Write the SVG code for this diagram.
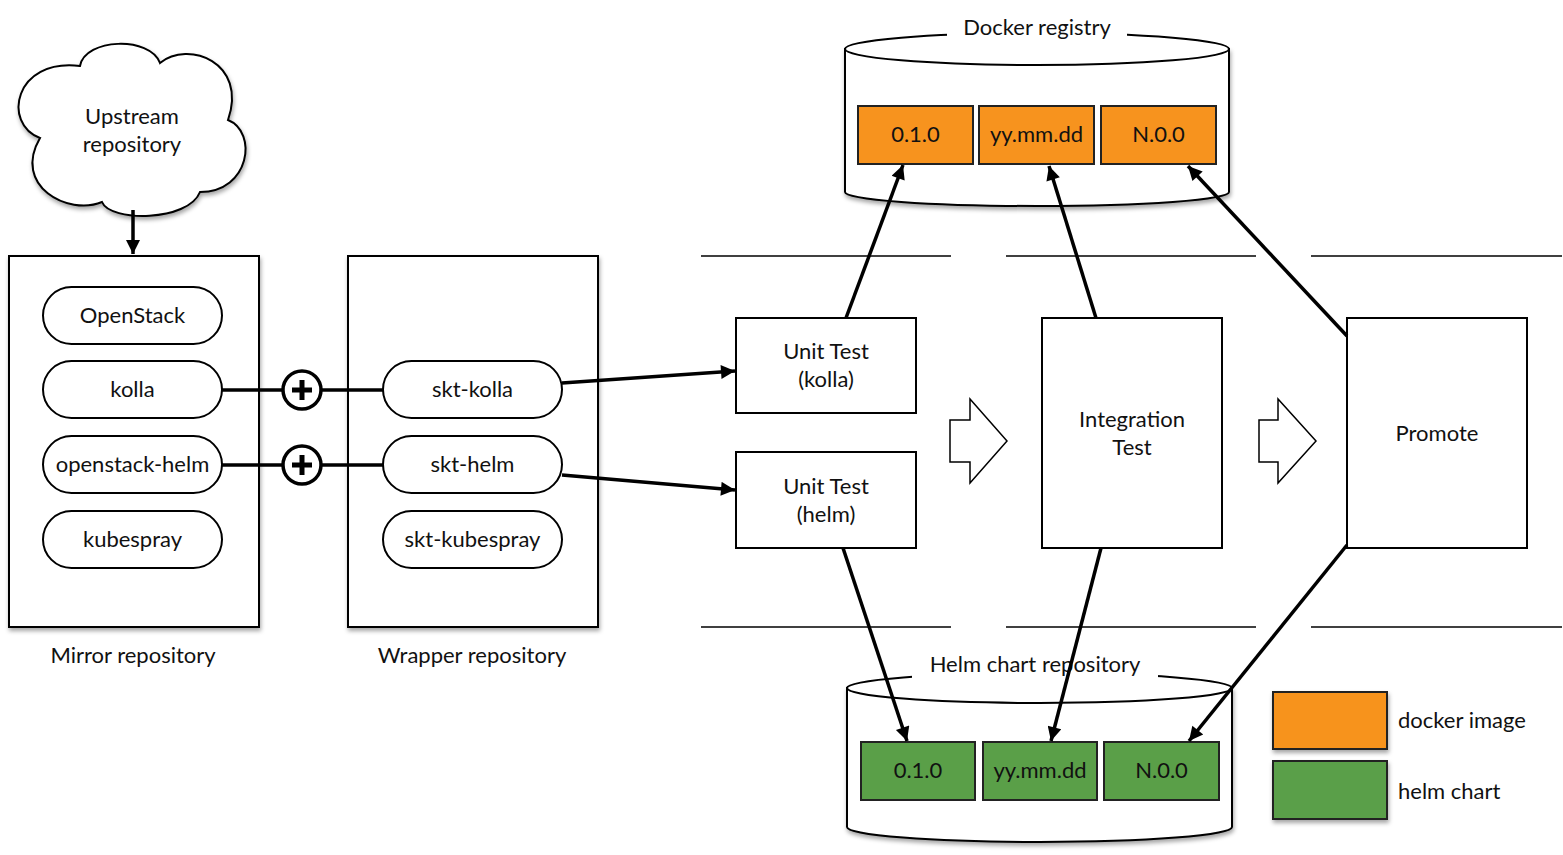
<svg xmlns="http://www.w3.org/2000/svg" width="1563" height="855" viewBox="0 0 1563 855">
<style>
text{font-family:"Lato","Open Sans","DejaVu Sans",sans-serif;font-size:22px;fill:#111;text-anchor:middle}
.box{fill:#fff;stroke:#000;stroke-width:2}
.pill{fill:#fff;stroke:#000;stroke-width:2}
.rule{stroke:#000;stroke-width:1.5;fill:none}
.conn{stroke:#000;stroke-width:3.5;fill:none}
.orange{fill:#F7931E;stroke:#222;stroke-width:2}
.green{fill:#5A9F48;stroke:#222;stroke-width:2}
.big{fill:#fff;stroke:#000;stroke-width:1.5}
</style>
<defs>
<filter id="sh" x="-10%" y="-10%" width="130%" height="130%">
<feDropShadow dx="1" dy="3" stdDeviation="2" flood-color="#000" flood-opacity="0.35"/>
</filter>
<marker id="ah" viewBox="0 0 10 10" refX="10" refY="5" markerWidth="5" markerHeight="4" orient="auto" markerUnits="strokeWidth">
<path d="M0,0 L10,5 L0,10 Z" fill="#000"/>
</marker>
</defs>

<g id="rules">
<line class="rule" x1="701" y1="256" x2="951" y2="256"/>
<line class="rule" x1="1006" y1="256" x2="1256" y2="256"/>
<line class="rule" x1="1311" y1="256" x2="1562" y2="256"/>
<line class="rule" x1="701" y1="627" x2="951" y2="627"/>
<line class="rule" x1="1006" y1="627" x2="1256" y2="627"/>
<line class="rule" x1="1311" y1="627" x2="1562" y2="627"/>
</g>

<g id="upstream">
<path filter="url(#sh)" d="M 80,66 C 85,38 150,36 160,63 C 188,40 248,62 228,120 C 258,132 250,192 200,192 C 188,222 110,222 102,202 C 68,216 12,186 40,138 C 2,124 14,58 80,66 Z" fill="#fff" stroke="#000" stroke-width="2"/>
<text x="132" y="124">Upstream</text>
<text x="132" y="152">repository</text>
</g>

<g id="mirror">
<rect class="box" x="9" y="256" width="250" height="371" filter="url(#sh)"/>
<text x="133" y="663">Mirror repository</text>
</g>
<g id="wrapper">
<rect class="box" x="348" y="256" width="250" height="371" filter="url(#sh)"/>
<text x="472" y="663">Wrapper repository</text>
</g>

<g id="openstack"><rect class="pill" x="43" y="287" width="179" height="57" rx="28.5"/><text x="132.5" y="323">OpenStack</text></g>
<g id="kolla"><rect class="pill" x="43" y="361" width="179" height="57" rx="28.5"/><text x="132.5" y="397">kolla</text></g>
<g id="openstack-helm"><rect class="pill" x="43" y="436" width="179" height="57" rx="28.5"/><text x="132.5" y="472">openstack-helm</text></g>
<g id="kubespray"><rect class="pill" x="43" y="511" width="179" height="57" rx="28.5"/><text x="132.5" y="547">kubespray</text></g>

<g id="skt-kolla"><rect class="pill" x="383" y="361" width="179" height="57" rx="28.5"/><text x="472.5" y="397">skt-kolla</text></g>
<g id="skt-helm"><rect class="pill" x="383" y="436" width="179" height="57" rx="28.5"/><text x="472.5" y="472">skt-helm</text></g>
<g id="skt-kubespray"><rect class="pill" x="383" y="511" width="179" height="57" rx="28.5"/><text x="472.5" y="547">skt-kubespray</text></g>

<g id="plus1">
<circle cx="302" cy="390" r="19" fill="#fff" stroke="#000" stroke-width="3.5"/>
<path d="M302,380 V400 M292,390 H312" stroke="#000" stroke-width="5"/>
</g>
<g id="plus2">
<circle cx="302" cy="465" r="19" fill="#fff" stroke="#000" stroke-width="3.5"/>
<path d="M302,455 V475 M292,465 H312" stroke="#000" stroke-width="5"/>
</g>

<g id="unit-kolla"><rect class="box" x="736" y="318" width="180" height="95"/><text x="826" y="359">Unit Test</text><text x="826" y="387">(kolla)</text></g>
<g id="unit-helm"><rect class="box" x="736" y="452" width="180" height="96"/><text x="826" y="494">Unit Test</text><text x="826" y="522">(helm)</text></g>
<g id="integration"><rect class="box" x="1042" y="318" width="180" height="230"/><text x="1132" y="427">Integration</text><text x="1132" y="455">Test</text></g>
<g id="promote"><rect class="box" x="1347" y="318" width="180" height="230"/><text x="1437" y="441">Promote</text></g>

<g id="step1"><path class="big" d="M950,420 H970 V399 L1007,441 L970,483 V462 H950 Z"/></g>
<g id="step2"><path class="big" d="M1259,420 H1278 V399 L1316,441 L1278,483 V462 H1259 Z"/></g>

<g id="docker-registry">
<path filter="url(#sh)" d="M845,49 V192 A192,14 0 0 0 1229,192 V49 Z" fill="#fff" stroke="#000" stroke-width="2"/>
<ellipse cx="1037" cy="49" rx="192" ry="16" fill="#fff" stroke="#000" stroke-width="2"/>
<rect x="947" y="20" width="180" height="24" fill="#fff"/>
<text x="1037" y="35">Docker registry</text>
<g id="d010"><rect class="orange" x="858" y="106" width="115" height="58"/><text x="915.5" y="142">0.1.0</text></g>
<g id="dyy"><rect class="orange" x="979" y="106" width="115" height="58"/><text x="1036.5" y="142">yy.mm.dd</text></g>
<g id="dN"><rect class="orange" x="1101" y="106" width="115" height="58"/><text x="1158.5" y="142">N.0.0</text></g>
</g>

<g id="helm-repo">
<path filter="url(#sh)" d="M847,688 V827 A192.5,15 0 0 0 1232,827 V688 Z" fill="#fff" stroke="#000" stroke-width="2"/>
<ellipse cx="1039.5" cy="688" rx="192.5" ry="15" fill="#fff" stroke="#000" stroke-width="2"/>
<rect x="912" y="655" width="246" height="26" fill="#fff"/>
<text x="1035" y="672">Helm chart repository</text>
<g id="h010"><rect class="green" x="861" y="742" width="114" height="58"/><text x="918" y="778">0.1.0</text></g>
<g id="hyy"><rect class="green" x="983" y="742" width="114" height="58"/><text x="1040" y="778">yy.mm.dd</text></g>
<g id="hN"><rect class="green" x="1104" y="742" width="115" height="58"/><text x="1161.5" y="778">N.0.0</text></g>
</g>

<g id="legend">
<rect class="orange" x="1273" y="692" width="114" height="57" filter="url(#sh)"/>
<text x="1398" y="728" style="text-anchor:start">docker image</text>
<rect class="green" x="1273" y="761" width="114" height="58" filter="url(#sh)"/>
<text x="1398" y="799" style="text-anchor:start">helm chart</text>
</g>

<g id="connectors">
<line class="conn" x1="133" y1="210" x2="133" y2="254" marker-end="url(#ah)"/>
<line class="conn" x1="222" y1="390" x2="283" y2="390"/>
<line class="conn" x1="321" y1="390" x2="383" y2="390"/>
<line class="conn" x1="222" y1="465" x2="283" y2="465"/>
<line class="conn" x1="321" y1="465" x2="383" y2="465"/>
<line class="conn" x1="562" y1="383" x2="735" y2="371" marker-end="url(#ah)"/>
<line class="conn" x1="562" y1="475" x2="735" y2="490" marker-end="url(#ah)"/>
<line class="conn" x1="846" y1="318" x2="903" y2="165" marker-end="url(#ah)"/>
<line class="conn" x1="1096" y1="318" x2="1049" y2="166" marker-end="url(#ah)"/>
<line class="conn" x1="1347" y1="336" x2="1188" y2="166" marker-end="url(#ah)"/>
<line class="conn" x1="843" y1="548" x2="907" y2="741" marker-end="url(#ah)"/>
<line class="conn" x1="1101" y1="548" x2="1051" y2="741" marker-end="url(#ah)"/>
<line class="conn" x1="1347" y1="545" x2="1189" y2="741" marker-end="url(#ah)"/>
</g>
</svg>
